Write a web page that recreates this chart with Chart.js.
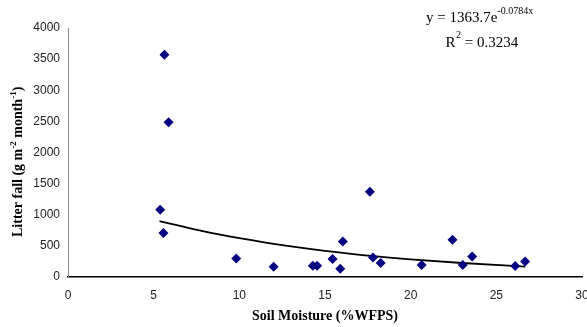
<!DOCTYPE html>
<html><head><meta charset="utf-8">
<script src="https://cdn.jsdelivr.net/npm/chart.js@4.4.1/dist/chart.umd.min.js"></script>
<style>html,body{margin:0;padding:0;background:#fff}#c{display:block}</style>
</head>
<body>
<canvas id="c" width="587" height="327"></canvas>
<script>
// Data
const soilMoisture = [5.38, 5.57, 5.63, 5.87, 9.82, 12.0, 14.29, 14.54, 15.44, 15.89, 16.04, 17.62, 17.8, 18.25, 20.64, 22.44, 23.04, 23.59, 26.1, 26.68];
const litterFall   = [1081, 707, 3571, 2484, 299, 165, 182, 182, 289, 133, 572, 1370, 315, 225, 193, 599, 193, 331, 177, 251];
// Trendline points
const trendX = [5.34, 8, 10, 12, 15, 18, 20, 23, 26.68];
const trendY = [897, 728, 623, 532, 421, 332, 284, 225, 168];
const xTicks = [0, 5, 10, 15, 20, 25, 30];
const yTicks = [0, 500, 1000, 1500, 2000, 2500, 3000, 3500, 4000];
const equationText = ["y = 1363.7e", "-0.0784x"];
const r2Text = ["R", "2", " = 0.3234"];
const yTitleParts = [["Litter fall (g m", false], ["-2", true], [" month", false], ["-1", true], [")", false]];
const xTitle = "Soil Moisture (%WFPS)";

const overlay = {
  id: 'overlay',
  afterDraw(chart) {
    const ctx = chart.ctx;
    ctx.save();
    ctx.fillStyle = '#000';
    ctx.textBaseline = 'alphabetic';
    ctx.textAlign = 'left';
    const big = '15px "Liberation Serif", "Times New Roman", serif';
    const small = '10px "Liberation Serif", "Times New Roman", serif';
    ctx.font = big;
    let x = 426;
    ctx.fillText(equationText[0], x, 22);
    x += ctx.measureText(equationText[0]).width;
    ctx.font = small;
    ctx.fillText(equationText[1], x, 14);
    ctx.font = big;
    x = 445.5;
    ctx.fillText(r2Text[0], x, 47);
    x += ctx.measureText(r2Text[0]).width + 0.5;
    ctx.font = small;
    ctx.fillText(r2Text[1], x, 38);
    x += ctx.measureText(r2Text[1]).width;
    ctx.font = big;
    ctx.fillText(r2Text[2], x, 47);
    ctx.translate(22, 237);
    ctx.rotate(-Math.PI / 2);
    let p = 0;
    for (const [t, sup] of yTitleParts) {
      ctx.font = sup ? 'bold 9px "Liberation Serif", serif' : 'bold 14px "Liberation Serif", serif';
      ctx.fillText(t, p, sup ? -6 : 0);
      p += ctx.measureText(t).width;
    }
    ctx.restore();
  }
};

new Chart(document.getElementById('c'), {
  type: 'scatter',
  data: {
    datasets: [
      {
        data: soilMoisture.map((v, i) => ({x: v, y: litterFall[i]})),
        pointStyle: 'rectRot',
        pointRadius: 5,
        pointHoverRadius: 5,
        backgroundColor: '#000080',
        borderColor: '#000080',
        borderWidth: 0,
        order: 1
      },
      {
        data: trendX.map((v, i) => ({x: v, y: trendY[i]})),
        showLine: true,
        pointRadius: 0,
        borderColor: '#000',
        borderWidth: 1.8,
        cubicInterpolationMode: 'monotone',
        fill: false,
        order: 2
      }
    ]
  },
  options: {
    responsive: false,
    animation: false,
    events: [],
    layout: { padding: { top: 28, right: 5, left: 0, bottom: 0 } },
    plugins: { legend: { display: false }, tooltip: { enabled: false } },
    scales: {
      x: {
        type: 'linear', min: 0, max: 30,
        afterBuildTicks: s => { s.ticks = xTicks.map(v => ({value: v})); },
        afterFit: s => { s.height = 50; s.paddingRight = 0; s.paddingLeft = 0; },
        grid: { display: false, drawTicks: false },
        border: { display: true, color: '#000', width: 1.5 },
        ticks: { padding: 11, color: '#222', callback: v => String(v),
                 font: { family: '"Liberation Sans", Arial, sans-serif', size: 12 }, maxRotation: 0 },
        title: { display: true, text: xTitle, color: '#000', padding: { top: 0, bottom: 2.6 },
                 font: { family: '"Liberation Serif", "Times New Roman", serif', size: 14, weight: 'bold' } }
      },
      y: {
        type: 'linear', min: 0, max: 4000,
        afterBuildTicks: s => { s.ticks = yTicks.map(v => ({value: v})); },
        afterFit: s => { s.width = 68; s.paddingTop = 0; s.paddingBottom = 0; },
        grid: { display: false, drawTicks: false },
        border: { display: true, color: '#888', width: 1 },
        ticks: { padding: 8, color: '#222', callback: v => String(v),
                 font: { family: '"Liberation Sans", Arial, sans-serif', size: 12 } }
      }
    }
  },
  plugins: [overlay]
});
</script>
</body></html>
